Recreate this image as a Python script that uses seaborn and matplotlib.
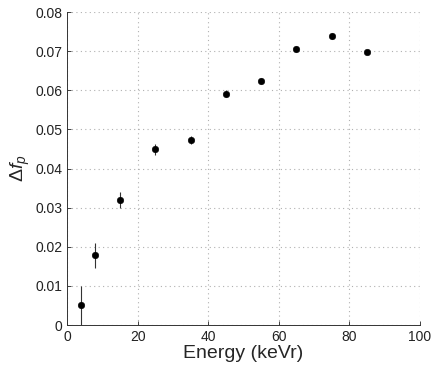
import numpy as np
import pandas as pd
import seaborn as sns
import matplotlib.pyplot as plt

energy = [4, 8, 15, 25, 35, 45, 55, 65, 75, 85]
delta_fp = [0.0051, 0.0178, 0.0319, 0.0449, 0.0474, 0.0591, 0.0623, 0.0706, 0.0739, 0.0698]
delta_err = [0.0050, 0.0032, 0.0020, 0.0014, 0.0010, 0.0009, 0.0008, 0.0008, 0.0008, 0.0006]

df = pd.DataFrame({'energy': energy, 'dfp': delta_fp, 'err': delta_err})

sns.set_style('ticks')
plt.rcParams['font.family'] = ['Liberation Sans', 'DejaVu Sans']
plt.rcParams['mathtext.fontset'] = 'custom'
plt.rcParams['mathtext.it'] = 'Liberation Sans:italic'
plt.rcParams['mathtext.rm'] = 'Liberation Sans'

fig = plt.figure(figsize=(4.36, 3.66), dpi=100)
ax = fig.add_axes([0.154, 0.112, 0.809, 0.855])

ax.errorbar(df['energy'], df['dfp'], yerr=df['err'], fmt='none', ecolor='#333333', elinewidth=0.8, capsize=0)
sns.scatterplot(data=df, x='energy', y='dfp', color='black', s=22, edgecolor='black', linewidth=0.4, ax=ax, zorder=3)

ax.set_xlim(0, 100)
ax.set_ylim(0, 0.08)
ax.set_xticks(np.arange(0, 101, 20))
ax.set_yticks(np.arange(0, 0.081, 0.01))
ax.set_yticklabels(['0'] + ['%.2f' % v for v in np.arange(0.01, 0.081, 0.01)])
ax.grid(True, linestyle=(0, (1, 3)), color='#b0b0b0', linewidth=0.8)
ax.tick_params(direction='in', labelsize=10, length=3, width=0.6, colors='#222222')
for s in ['left', 'bottom']:
    ax.spines[s].set_linewidth(0.7)
    ax.spines[s].set_color('#333333')
sns.despine(ax=ax, top=True, right=True)

ax.set_xlabel('Energy (keVr)', fontsize=14, labelpad=1)
ax.set_ylabel(r'$\Delta f_p$', fontsize=14, labelpad=2)

plt.savefig('out.png', dpi=100)
